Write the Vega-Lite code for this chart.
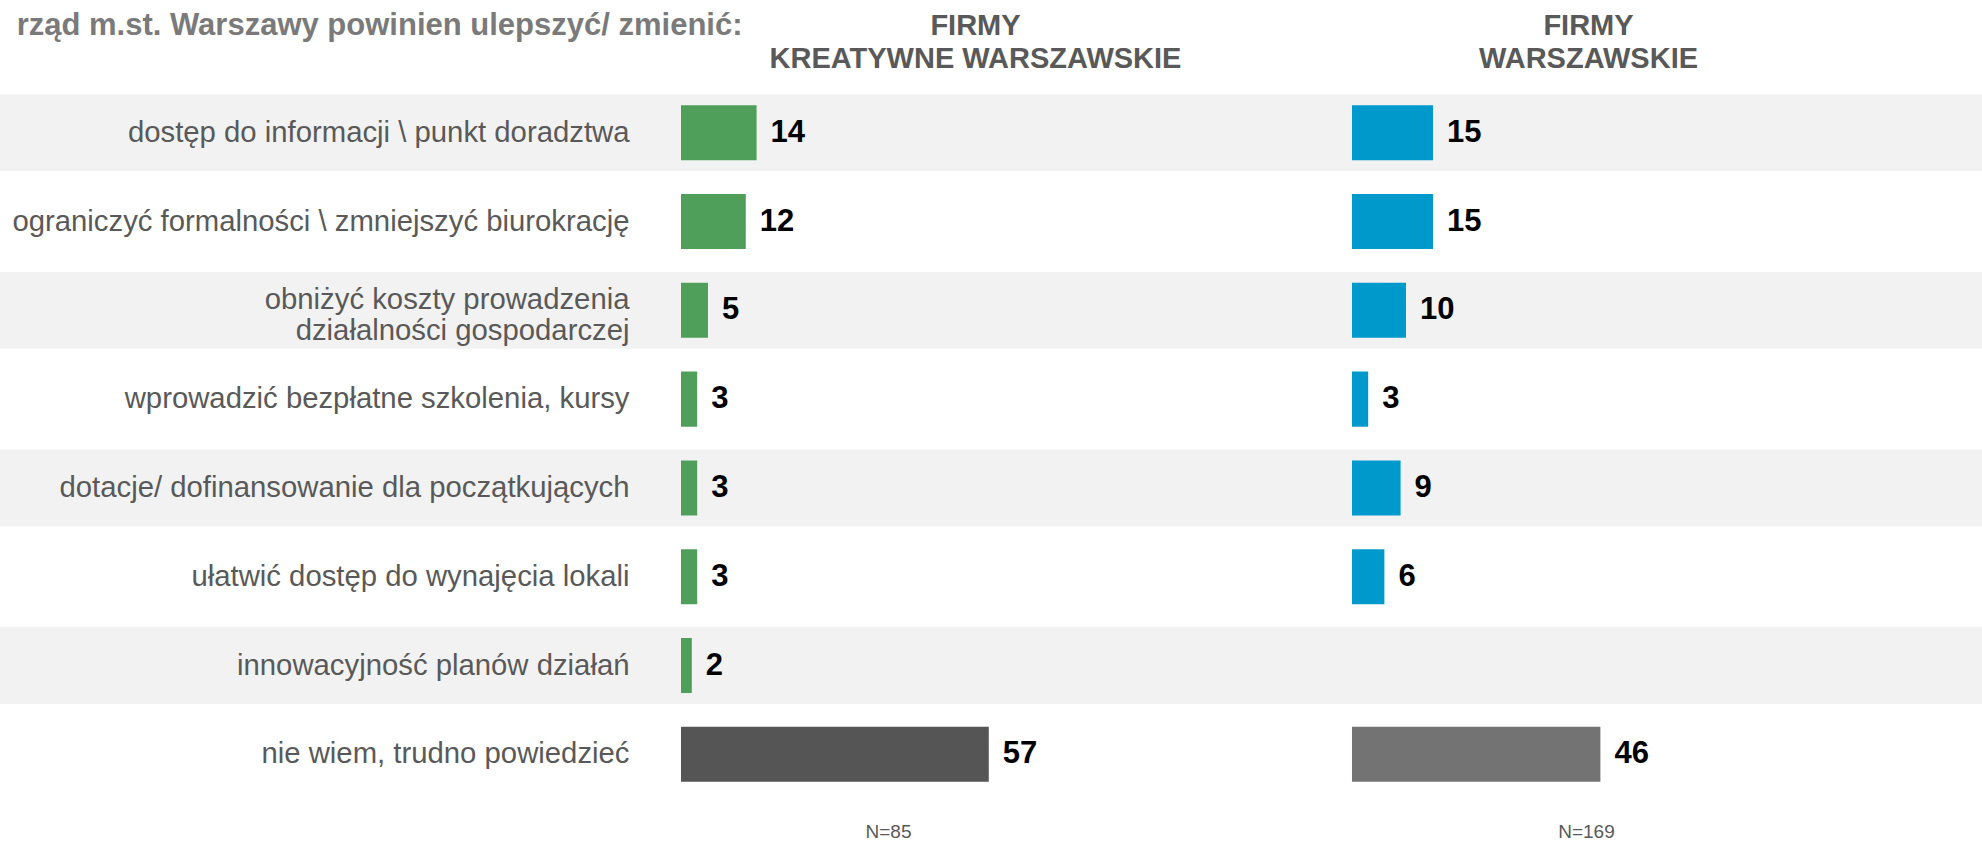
{
  "$schema": "https://vega.github.io/schema/vega-lite/v6.json",
  "width": 1982,
  "height": 843,
  "autosize": {"type": "none"},
  "padding": 0,
  "background": "white",
  "config": {"view": {"stroke": null}},
  "datasets": {
    "dane": [
      {"nr": 1, "kategoria": "dostęp do informacji \\ punkt doradztwa", "grupa": "K", "wartosc": 14},
      {"nr": 2, "kategoria": "ograniczyć formalności \\ zmniejszyć biurokrację", "grupa": "K", "wartosc": 12},
      {"nr": 3, "kategoria": "obniżyć koszty prowadzenia działalności gospodarczej", "grupa": "K", "wartosc": 5},
      {"nr": 4, "kategoria": "wprowadzić bezpłatne szkolenia, kursy", "grupa": "K", "wartosc": 3},
      {"nr": 5, "kategoria": "dotacje/ dofinansowanie  dla początkujących", "grupa": "K", "wartosc": 3},
      {"nr": 6, "kategoria": "ułatwić dostęp do wynajęcia lokali", "grupa": "K", "wartosc": 3},
      {"nr": 7, "kategoria": "innowacyjność planów działań", "grupa": "K", "wartosc": 2},
      {"nr": 8, "kategoria": "nie wiem, trudno powiedzieć", "grupa": "K", "wartosc": 57},
      {"nr": 1, "kategoria": "dostęp do informacji \\ punkt doradztwa", "grupa": "W", "wartosc": 15},
      {"nr": 2, "kategoria": "ograniczyć formalności \\ zmniejszyć biurokrację", "grupa": "W", "wartosc": 15},
      {"nr": 3, "kategoria": "obniżyć koszty prowadzenia działalności gospodarczej", "grupa": "W", "wartosc": 10},
      {"nr": 4, "kategoria": "wprowadzić bezpłatne szkolenia, kursy", "grupa": "W", "wartosc": 3},
      {"nr": 5, "kategoria": "dotacje/ dofinansowanie  dla początkujących", "grupa": "W", "wartosc": 9},
      {"nr": 6, "kategoria": "ułatwić dostęp do wynajęcia lokali", "grupa": "W", "wartosc": 6},
      {"nr": 8, "kategoria": "nie wiem, trudno powiedzieć", "grupa": "W", "wartosc": 46}
    ]
  },
  "data": {"name": "dane"},
  "encoding": {
    "y": {
      "field": "kategoria",
      "type": "nominal",
      "scale": {
        "domain": [
          "dostęp do informacji \\ punkt doradztwa",
          "ograniczyć formalności \\ zmniejszyć biurokrację",
          "obniżyć koszty prowadzenia działalności gospodarczej",
          "wprowadzić bezpłatne szkolenia, kursy",
          "dotacje/ dofinansowanie  dla początkujących",
          "ułatwić dostęp do wynajęcia lokali",
          "innowacyjność planów działań",
          "nie wiem, trudno powiedzieć"
        ],
        "paddingInner": 0,
        "paddingOuter": 0.7466,
        "align": 0.666
      },
      "axis": {
        "orient": "left",
        "offset": -629,
        "zindex": 2,
        "domain": false,
        "ticks": false,
        "tickSize": 0,
        "grid": false,
        "labelPadding": 0,
        "labelFont": "Liberation Sans",
        "labelFontSize": 29.3,
        "labelColor": "#595959",
        "labelLimit": 900,
        "labelOverlap": false,
        "labelBaseline": "middle",
        "labelLineHeight": 31,
        "labelOffset": {"condition": {"test": "datum.label == 'obniżyć koszty prowadzenia działalności gospodarczej'", "value": -10}, "value": 0},
        "labelExpr": "datum.label == 'obniżyć koszty prowadzenia działalności gospodarczej' ? ['obniżyć koszty prowadzenia', 'działalności gospodarczej'] : datum.label",
        "title": "rząd m.st. Warszawy powinien ulepszyć/ zmienić:",
        "titleAngle": 0,
        "titleX": 113,
        "titleY": 34,
        "titleAlign": "right",
        "titleBaseline": "alphabetic",
        "titleFont": "Liberation Sans",
        "titleFontSize": 31,
        "titleFontWeight": "bold",
        "titleColor": "#7a7a7a"
      }
    }
  },
  "layer": [
    {
      "transform": [{"filter": "datum.grupa == 'K' && datum.nr % 2 == 1"}],
      "mark": {"type": "bar", "height": {"band": 0.865}, "color": "#f2f2f2"},
      "encoding": {}
    },
    {
      "transform": [{"filter": "datum.grupa == 'K'"}],
      "mark": {"type": "bar", "height": {"band": 0.62}},
      "encoding": {
        "x": {
          "field": "wartosc",
          "type": "quantitative",
          "scale": {"domain": [-126.11, 240.93], "nice": false},
          "axis": {
            "orient": "top",
            "domain": false,
            "ticks": false,
            "labels": false,
            "grid": false,
            "title": ["FIRMY", "KREATYWNE WARSZAWSKIE"],
            "titleX": 975,
            "titleY": 34,
            "titleAlign": "center",
            "titleBaseline": "alphabetic",
            "titleLineHeight": 33,
            "titleFont": "Liberation Sans",
            "titleFontSize": 29,
            "titleFontWeight": "bold",
            "titleColor": "#595959"
          }
        },
        "color": {"condition": {"test": "datum.nr == 8", "value": "#555555"}, "value": "#4f9f5a"}
      }
    },
    {
      "transform": [{"filter": "datum.grupa == 'K'"}],
      "mark": {"type": "text", "align": "left", "baseline": "middle", "dx": 14, "font": "Liberation Sans", "fontSize": 31, "fontWeight": "bold", "color": "#000000"},
      "encoding": {
        "x": {
          "field": "wartosc",
          "type": "quantitative",
          "scale": {"domain": [-126.11, 240.93], "nice": false},
          "axis": {
            "orient": "bottom",
            "domain": false,
            "ticks": false,
            "labels": false,
            "grid": false,
            "title": "N=85",
            "titleX": 888,
            "titleY": -12,
            "titleAlign": "center",
            "titleBaseline": "middle",
            "titleFont": "Liberation Sans",
            "titleFontSize": 19,
            "titleFontWeight": "normal",
            "titleColor": "#595959"
          }
        },
        "text": {"field": "wartosc", "type": "quantitative"}
      }
    },
    {
      "transform": [{"filter": "datum.grupa == 'W'"}],
      "mark": {"type": "bar", "height": {"band": 0.62}},
      "encoding": {
        "x": {
          "field": "wartosc",
          "type": "quantitative",
          "scale": {"domain": [-250.37, 116.67], "nice": false},
          "axis": {
            "orient": "top",
            "domain": false,
            "ticks": false,
            "labels": false,
            "grid": false,
            "title": ["FIRMY", "WARSZAWSKIE"],
            "titleX": 1588,
            "titleY": 34,
            "titleAlign": "center",
            "titleBaseline": "alphabetic",
            "titleLineHeight": 33,
            "titleFont": "Liberation Sans",
            "titleFontSize": 29,
            "titleFontWeight": "bold",
            "titleColor": "#595959"
          }
        },
        "color": {"condition": {"test": "datum.nr == 8", "value": "#737373"}, "value": "#0099cc"}
      }
    },
    {
      "transform": [{"filter": "datum.grupa == 'W'"}],
      "mark": {"type": "text", "align": "left", "baseline": "middle", "dx": 14, "font": "Liberation Sans", "fontSize": 31, "fontWeight": "bold", "color": "#000000"},
      "encoding": {
        "x": {
          "field": "wartosc",
          "type": "quantitative",
          "scale": {"domain": [-250.37, 116.67], "nice": false},
          "axis": {
            "orient": "bottom",
            "domain": false,
            "ticks": false,
            "labels": false,
            "grid": false,
            "title": "N=169",
            "titleX": 1586,
            "titleY": -12,
            "titleAlign": "center",
            "titleBaseline": "middle",
            "titleFont": "Liberation Sans",
            "titleFontSize": 19,
            "titleFontWeight": "normal",
            "titleColor": "#595959"
          }
        },
        "text": {"field": "wartosc", "type": "quantitative"}
      }
    }
  ],
  "resolve": {"scale": {"x": "independent"}, "axis": {"x": "independent"}}
}
